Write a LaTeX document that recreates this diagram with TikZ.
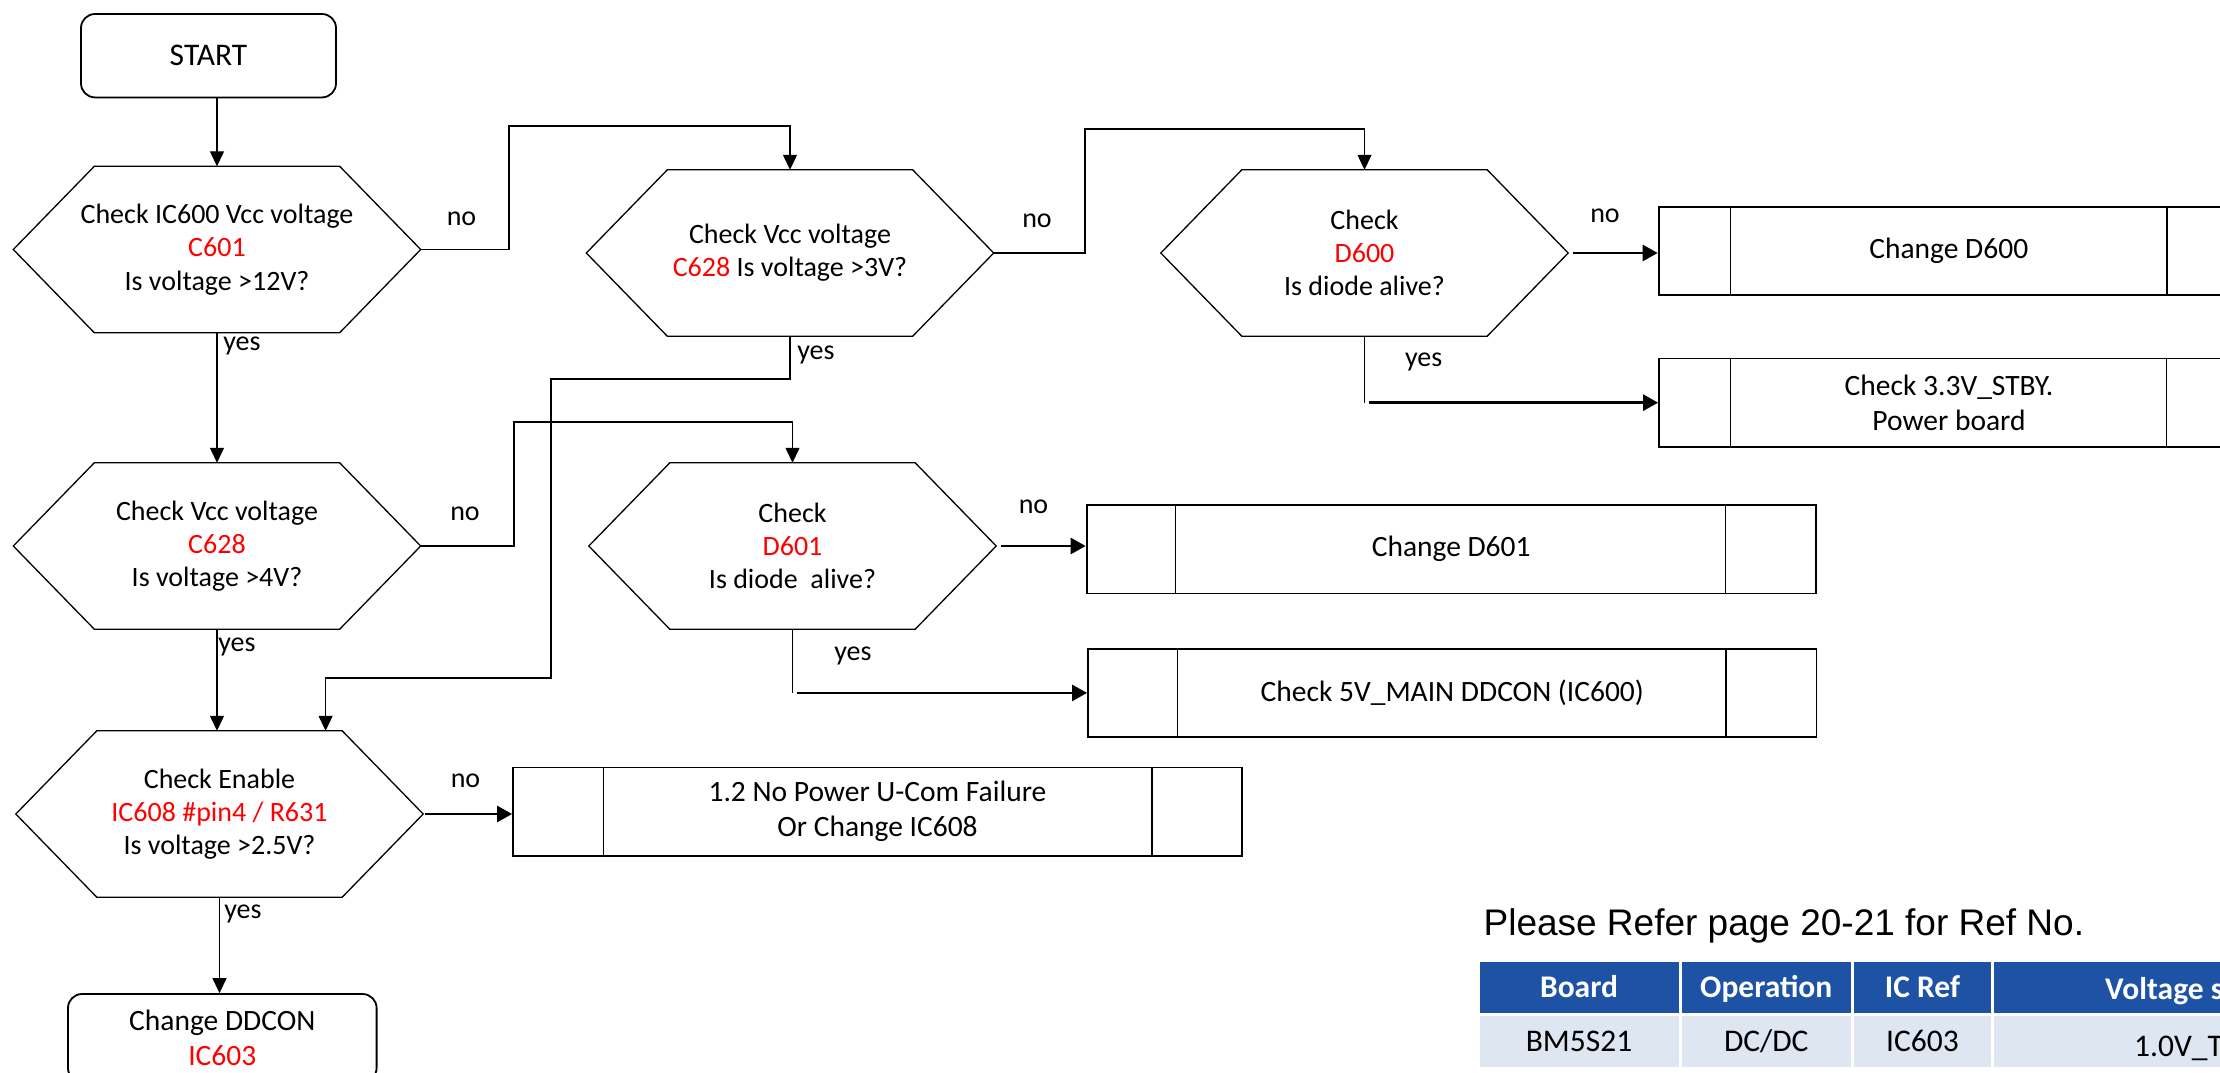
\documentclass[tikz,border=0pt]{standalone}
\usepackage{fontspec}
\setmainfont{Carlito}
\newfontfamily\arialfont{Liberation Sans}
\usetikzlibrary{arrows.meta,calc}
\definecolor{hdrblue}{RGB}{30,82,164}
\definecolor{rowblue}{RGB}{221,230,241}
\definecolor{refred}{RGB}{255,0,0}
\newcommand\nf{\fontsize{28}{33.3}\selectfont}
\newcommand\bxf{\fontsize{29.5}{35}\selectfont}
\newcommand\tbf{\fontsize{31.5}{37}\selectfont}
\newcommand\hexdraw[1]{\draw[hexline] ([xshift=81pt]#1.north west) -- ([xshift=-81pt]#1.north east) -- (#1.east) -- ([xshift=-81pt]#1.south east) -- ([xshift=81pt]#1.south west) -- (#1.west) -- cycle;}
\newcommand\procbars[3]{\draw[barline] ([xshift=#2]#1.north west) -- ([xshift=#2]#1.south west);
  \draw[barline] ([xshift=-#3]#1.north east) -- ([xshift=-#3]#1.south east);}
\begin{document}
\begin{tikzpicture}[x=1pt,y=-1pt,
  hexa/.style={minimum width=407pt, minimum height=166pt, inner sep=0pt, align=center, font=\nf},
  proc/.style={draw, line width=1.8pt, minimum height=88.5pt, inner sep=0pt, align=center, font=\bxf},
  term/.style={draw, line width=1.8pt, rounded corners=14pt, inner sep=0pt, align=center, font=\bxf},
  hexline/.style={line width=1.3pt, line join=miter},
  barline/.style={line width=1.3pt},
  conn/.style={line width=1.3pt, -{Triangle[length=15pt,width=14pt]}},
  thinline/.style={line width=1.3pt},
  thickarr/.style={line width=2.7pt, -{Triangle[length=15pt,width=16pt]}},
  lbl/.style={font=\nf, inner sep=0pt},
  hcell/.style={fill=hdrblue, text=white, font={\tbf\bfseries}, inner sep=0pt, minimum height=50.4pt, text height=20pt, text depth=0pt},
  dcell/.style={fill=rowblue, font=\tbf, inner sep=0pt, minimum height=50.8pt, text height=20pt, text depth=0pt}
]
\useasboundingbox (0,0) rectangle (2220,1072);
\fill[white] (0,0) rectangle (2220,1072);
\clip (0,0) rectangle (2220,1072);

% terminals
\node[term, minimum width=255pt, minimum height=83.4pt, font=\tbf] (start) at (208.5,55.7) {START};
\node[term, minimum width=308.6pt, minimum height=88pt] (dd) at (222.3,1038) {Change DDCON\\\textcolor{refred}{IC603}};

% decisions
\node[hexa] (h1) at (217,249.5) {Check IC600 Vcc voltage\\\textcolor{refred}{C601}\\Is voltage >12V?};
\hexdraw{h1}
\node[hexa] (h2) at (790,253) {Check Vcc voltage\\\textcolor{refred}{C628} Is voltage >3V?};
\hexdraw{h2}
\node[hexa] (h3) at (1364.5,253) {Check\\\textcolor{refred}{D600}\\Is diode alive?};
\hexdraw{h3}
\node[hexa] (h4) at (217,546) {Check Vcc voltage\\\textcolor{refred}{C628}\\Is voltage >4V?};
\hexdraw{h4}
\node[hexa] (h5) at (792.5,546) {Check\\\textcolor{refred}{D601}\\Is diode~ alive?};
\hexdraw{h5}
\node[hexa] (h6) at (219.5,814) {Check Enable\\\textcolor{refred}{IC608 \#pin4 / R631}\\Is voltage >2.5V?};
\hexdraw{h6}

% process boxes
\node[proc, minimum width=580.4pt] (b1) at (1948.8,250.9) {Change D600};
\procbars{b1}{73pt}{73pt}
\node[proc, minimum width=580pt] (b2) at (1949,402.65) {Check 3.3V\_STBY.\\Power board};
\procbars{b2}{72.5pt}{73.5pt}
\node[proc, minimum width=729.2pt] (b3) at (1451.2,549.2) {Change D601};
\procbars{b3}{90pt}{91pt}
\node[proc, minimum width=728.5pt] (b4) at (1452.25,692.9) {Check 5V\_MAIN DDCON (IC600)};
\procbars{b4}{90.7pt}{91.5pt}
\node[proc, minimum width=729pt] (b5) at (877.5,811.75) {1.2 No Power U-Com Failure\\Or Change IC608};
\procbars{b5}{91.6pt}{91pt}

% connectors
\draw[conn] (h1.north |- start.south) -- (h1.north);
\coordinate (n1) at (509,126);
\draw[conn] (h1.east) -| (n1) -| (h2.north);
\coordinate (n2) at (1085,129);
\draw[conn] (h2.east) -| (n2) -| (h3.north);
\draw[thickarr] ($(h3.east)+(5,0)$) -- (b1.west |- h3.east);
\draw[thinline] (h3.south) -- (h3.south |- b2.west);
\draw[thickarr] ($(h3.south |- b2.west)+(4,0)$) -- (b2.west);
\draw[conn] (h1.south) -- (h4.north);
\coordinate (n4) at (514,422);
\draw[conn] (h4.east) -| (n4) -| (h5.north);
\coordinate (y2a) at (551,379);
\coordinate (y2b) at (325.6,678);
\draw[conn] (h2.south) |- (y2a) |- (y2b) -- (y2b |- h6.north);
\draw[thickarr] ($(h5.east)+(5,0)$) -- (b3.west |- h5.east);
\draw[thinline] (h5.south) -- (h5.south |- b4.west);
\draw[thickarr] ($(h5.south |- b4.west)+(4,0)$) -- (b4.west);
\draw[conn] (h4.south) -- (h4.south |- h6.north);
\draw[thickarr] ($(h6.east)+(2,0)$) -- (b5.west |- h6.east);
\draw[conn] (h6.south) -- (h6.south |- dd.north);

% labels
\node[lbl] (l1) at (461.5,219) {no};
\node[lbl] (l2) at (1037,220.5) {no};
\node[lbl] (l3) at (1605,216) {no};
\node[lbl] (l4) at (1423.6,362) {yes};
\node[lbl] (l5) at (242,346) {yes};
\node[lbl] (l6) at (465,513.5) {no};
\node[lbl] (l7) at (816,355) {yes};
\node[lbl] (l8) at (1033.5,507) {no};
\node[lbl] (l9) at (853,656) {yes};
\node[lbl] (l10) at (237,647) {yes};
\node[lbl] (l11) at (465.5,781) {no};
\node[lbl] (l12) at (243,913.5) {yes};

% note and table
\node[anchor=base west, font={\arialfont\fontsize{37}{44}\selectfont}, inner sep=0pt] (note) at (1483.4,935) {Please Refer page 20-21 for Ref No.};
\node[hcell, minimum width=199pt] (t11) at (1579,987.5) {Board};
\node[hcell, minimum width=169.5pt] (t12) at (1766.25,987.5) {Operation};
\node[hcell, minimum width=137pt] (t13) at (1922.5,987.5) {IC Ref};
\node[hcell, minimum width=246pt] (t14) at (2117,987.5) {};
\node[anchor=base west, text=white, font={\tbf\bfseries}, inner sep=0pt] (t14t) at (2105,999) {Voltage s};
\node[dcell, minimum width=199pt] (t21) at (1579,1041.1) {BM5S21};
\node[dcell, minimum width=169.5pt] (t22) at (1766.25,1041.1) {DC/DC};
\node[dcell, minimum width=137pt] (t23) at (1922.5,1041.1) {IC603};
\node[dcell, minimum width=246pt] (t24) at (2117,1041.1) {};
\node[anchor=base west, font=\tbf, inner sep=0pt] (t24t) at (2134,1056) {1.0V\_T};
\end{tikzpicture}
\end{document}
